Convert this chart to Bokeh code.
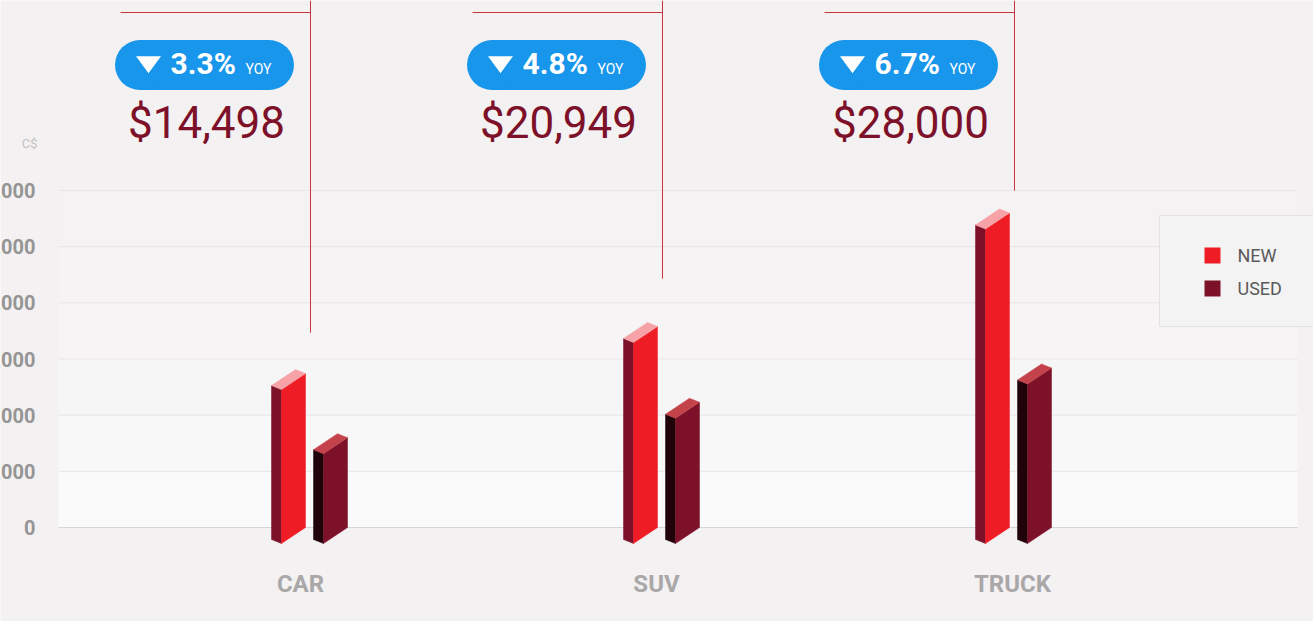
from bokeh.plotting import figure
from bokeh.models import Range1d
from bokeh.core.properties import value
from bokeh.embed import file_html
from bokeh.resources import INLINE

# ---------------- data ----------------
categories = ["CAR", "SUV", "TRUCK"]
series_names = ["NEW", "USED"]
new_values = [13700, 17900, 28000]
used_values = [8000, 11150, 14200]
price_labels = ["$14,498", "$20,949", "$28,000"]
yoy_labels = ["3.3%", "4.8%", "6.7%"]
yoy_suffix = "YOY"
pointer_values = [17350, 22150, 30000]
y_ticks = [0, 5000, 10000, 15000, 20000, 25000, 30000]
y_tick_labels = ["0", "5,000", "10,000", "15,000", "20,000", "25,000", "30,000"]
unit_label = "C$"

# ---------------- layout / style ----------------
W, H = 1313, 621
BASE_Y = 527          # screen y of value 0
TOP_Y = 190           # screen y of the top tick
PX = y_ticks[-1] / (BASE_Y - TOP_Y)   # data units per pixel


def sy(s):
    """screen y (from top) -> data y"""
    return (BASE_Y - s) * PX


BG = "#f4f1f2"
FONT = value("Roboto")
PLOT_L, PLOT_R = 58, 1297
CAT0, CAT_STEP = 310, 352
LAB0, LAB_STEP = 300, 356

NEW_COLORS = dict(front="#ee1c25", side="#7c1129", top="#f6a2a7")
USED_COLORS = dict(front="#7c1129", side="#200309", top="#c4424a")
BADGE = "#1796eb"
PRICE_COLOR = "#7c1129"
POINTER_COLOR = "#c9343b"

p = figure(width=W, height=H, x_range=Range1d(0, W), y_range=Range1d(sy(H), sy(0)),
           output_backend="svg", toolbar_location=None, min_border=0)
p.axis.visible = False
p.grid.visible = False
p.outline_line_color = None
p.background_fill_color = BG
p.border_fill_color = BG

# plot background bands (light gradient toward the bottom)
band_colors = ["#fafafa", "#f9f8f8", "#f7f6f7", "#f6f4f5", "#f5f3f4", "#f4f2f3"]
p.quad(left=[PLOT_L] * (len(y_ticks) - 1), right=[PLOT_R] * (len(y_ticks) - 1),
       bottom=y_ticks[:-1], top=y_ticks[1:], fill_color=band_colors, line_color=None)

# grid lines
p.segment(x0=[PLOT_L] * (len(y_ticks) - 1), x1=[PLOT_R] * (len(y_ticks) - 1),
          y0=y_ticks[1:], y1=y_ticks[1:], line_color="#e7e5e6", line_width=1)
p.segment(x0=[PLOT_L], x1=[PLOT_R], y0=[y_ticks[0]], y1=[y_ticks[0]],
          line_color="#d6d4d5", line_width=1)

# y tick labels (partially cut by the left edge like the reference)
p.text(x=[35] * len(y_ticks), y=y_ticks, text=y_tick_labels, text_align="right",
       text_baseline="middle", text_font=FONT, text_font_size="20px",
       text_font_style="bold", text_color="#959595")
p.text(x=[37], y=[sy(143)], text=[unit_label], text_align="right", text_baseline="middle",
       text_font=FONT, text_font_size="13px", text_color="#c3c1c2")

# ---------------- 3D-like bars ----------------
SIDE_W, FRONT_W = 10, 24
SKEW = 16 * PX
LIFT = 4 * PX


def prism(x_side_left, v, colors):
    xl = x_side_left + SIDE_W
    xr = xl + FRONT_W
    side = ([x_side_left, xl, xl, x_side_left],
            [v - SKEW + LIFT, v - SKEW, -SKEW, -SKEW + LIFT])
    front = ([xl, xr, xr, xl], [v - SKEW, v, 0, -SKEW])
    top = ([x_side_left, xl, xr, xr - SIDE_W], [v - SKEW + LIFT, v - SKEW, v, v + LIFT])
    for (xs, ys), key in ((side, "side"), (front, "front"), (top, "top")):
        p.patch(xs, ys, fill_color=colors[key], line_color=colors[key], line_width=0.5)


centers = [CAT0 + i * CAT_STEP for i in range(len(categories))]
for i, c in enumerate(centers):
    prism(c - 39, new_values[i], NEW_COLORS)
    prism(c + 3, used_values[i], USED_COLORS)

# category labels
p.text(x=[LAB0 + i * LAB_STEP for i in range(len(categories))], y=[sy(583)] * len(categories),
       text=categories, text_align="center", text_baseline="middle", text_font=FONT,
       text_font_size="24px", text_font_style="bold", text_color="#a9a7a8")

# ---------------- callouts ----------------
top_val = sy(0)
p.segment(x0=centers, x1=centers, y0=pointer_values, y1=[top_val] * len(centers),
          line_color=POINTER_COLOR, line_width=1)
p.segment(x0=[c - 190 for c in centers], x1=centers, y0=[sy(12)] * len(centers),
          y1=[sy(12)] * len(centers), line_color=POINTER_COLOR, line_width=1)

bx = [c - 106 for c in centers]
by = [sy(64.5)] * len(centers)
p.rect(x=bx, y=by, width=129, height=50, width_units="screen", height_units="screen",
       fill_color=BADGE, line_color=None)
p.circle(x=[b - 64.5 for b in bx] + [b + 64.5 for b in bx], y=by + by, radius=25,
         radius_units="screen", fill_color=BADGE, line_color=None)
p.patches(xs=[[b - 68.5, b - 43.5, b - 56] for b in bx],
          ys=[[sy(55.7), sy(55.7), sy(72.7)] for _ in bx], fill_color="white", line_color=None)
p.text(x=[b - 34 for b in bx], y=[sy(63)] * len(bx), text=yoy_labels, text_align="left",
       text_baseline="middle", text_font=FONT, text_font_size="30px",
       text_font_style="bold", text_color="white")
p.text(x=[b + 41 for b in bx], y=[sy(68.5)] * len(bx), text=[yoy_suffix] * len(bx),
       text_align="left", text_baseline="middle", text_font=FONT,
       text_font_size="14px", text_color="white")
p.text(x=[c - 104 for c in centers], y=[sy(122.5)] * len(centers), text=price_labels,
       text_align="center", text_baseline="middle", text_font=FONT,
       text_font_size="44px", text_color=PRICE_COLOR)

# ---------------- legend ----------------
p.quad(left=[1159], right=[1330], top=[sy(215)], bottom=[sy(326)],
       fill_color="#f4f3f4", line_color="#e3e1e2", line_width=1)
leg_y = [sy(255), sy(288)]
p.scatter(x=[1212, 1212], y=leg_y, marker="square", size=16,
          fill_color=[NEW_COLORS["front"], USED_COLORS["front"]], line_color=None)
p.text(x=[1237, 1237], y=leg_y, text=series_names, text_align="left", text_baseline="middle",
       text_font=FONT, text_font_size="18px", text_color="#5a5a5a")

open("out.html", "w").write(file_html(p, INLINE))
